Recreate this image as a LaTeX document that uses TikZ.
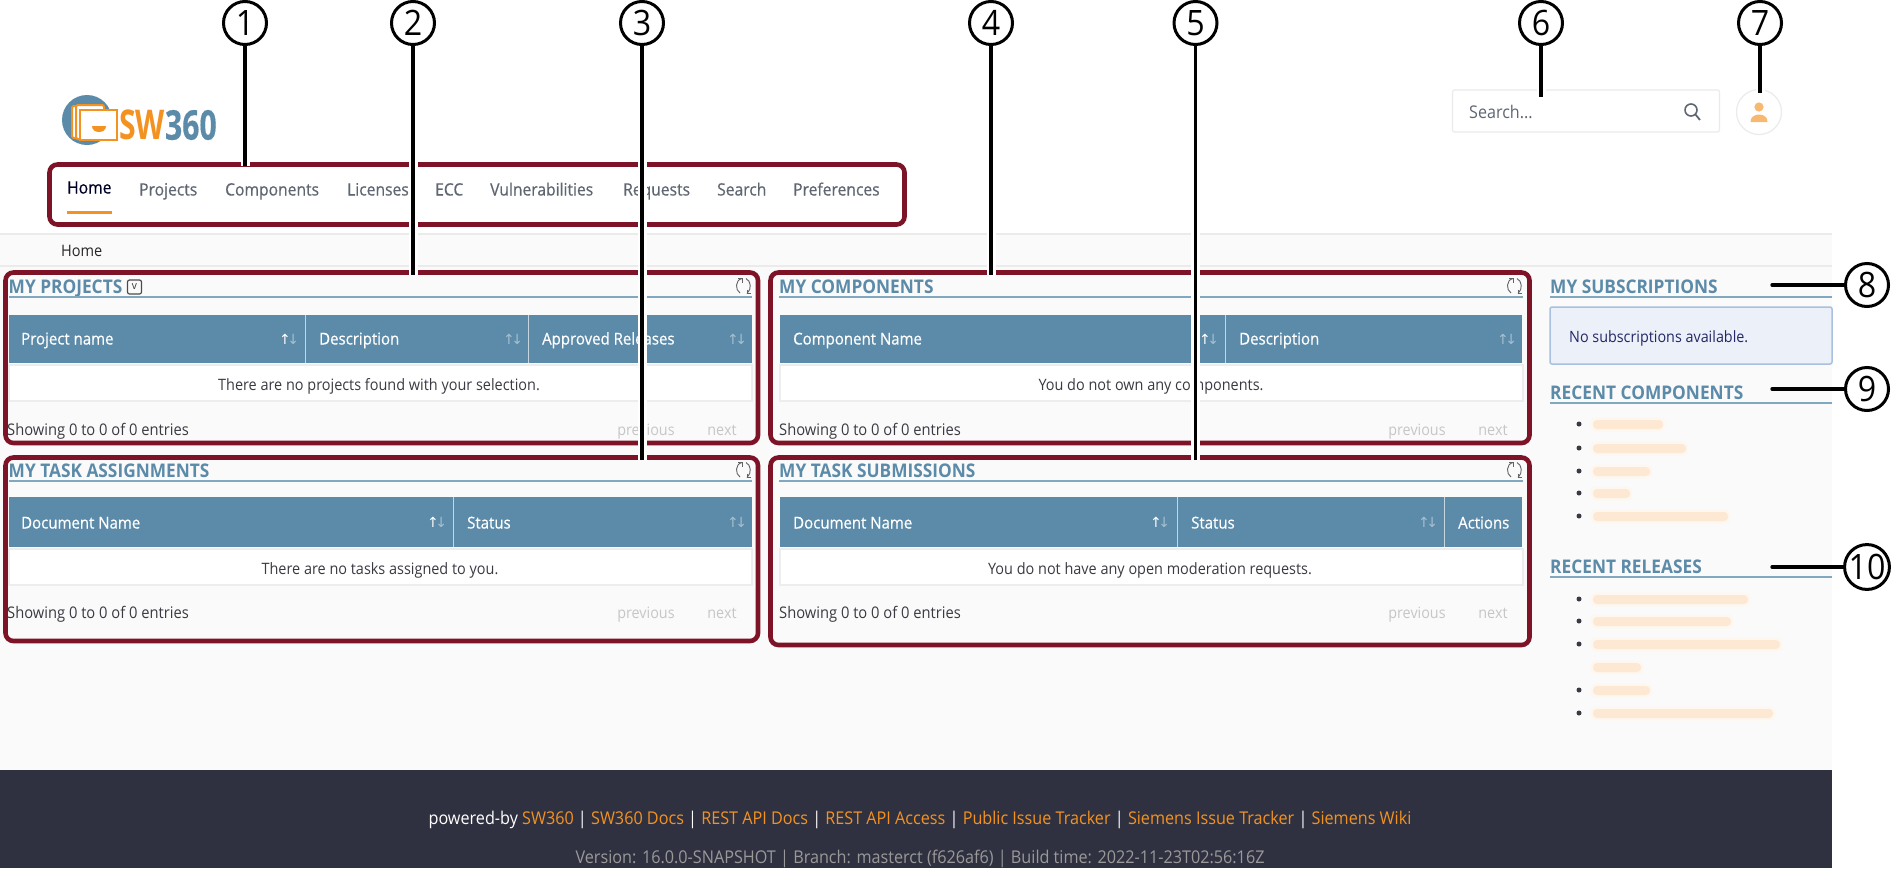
\documentclass[tikz,border=0pt]{standalone}
\usepackage{fontspec}
\setmainfont[FakeStretch=0.92]{Open Sans}
\newfontfamily\semifont[FakeStretch=0.92,FakeBold=0.45]{Open Sans}
\newfontfamily\symfont{DejaVu Sans}
\usetikzlibrary{positioning}
\usetikzlibrary{calc}
\definecolor{frameRed}{HTML}{7D1327}
\definecolor{swBlue}{HTML}{5C8BA9}
\definecolor{ruleBlue}{HTML}{82A8C0}
\definecolor{swOrange}{HTML}{F39221}
\definecolor{pageGray}{HTML}{FAFAFA}
\definecolor{footDark}{HTML}{2F3140}
\definecolor{navGray}{HTML}{5F6672}
\definecolor{bodyDark}{HTML}{3A3A42}
\definecolor{pagerGray}{HTML}{C6C6C6}
\definecolor{infoFill}{HTML}{ECF0F8}
\definecolor{infoLine}{HTML}{A9C1DE}
\definecolor{dimArrow}{HTML}{A5BFD0}
\tikzset{myFrame/.style={draw=frameRed, line width=4.6pt, rounded corners=8pt, inner sep=0pt, outer sep=0pt}}
\tikzset{myLeader/.style={line width=3.4pt, preaction={draw=white, line width=9pt}}}
\tikzset{myCallout/.style={circle, draw=black, line width=3pt, fill=white, minimum size=43pt, inner sep=0pt, font=\fontsize{35}{37}\selectfont}}
\tikzset{myTitle/.style={anchor=west, inner sep=0pt, text height=15pt, text depth=0pt, text=swBlue, font=\fontsize{18.8}{20}\selectfont\bfseries}}
\tikzset{myNav/.style={anchor=west, inner sep=0pt, text height=15pt, text depth=4pt, text=navGray, font=\fontsize{17}{18}\selectfont\semifont}}
\tikzset{myHead/.style={anchor=west, inner sep=0pt, text height=15pt, text depth=4pt, text=white, font=\fontsize{16.3}{18}\selectfont\semifont}}
\tikzset{myBody/.style={inner sep=0pt, text height=15pt, text depth=4pt, text=bodyDark, font=\fontsize{15.7}{18}\selectfont}}
\tikzset{myShow/.style={anchor=west, inner sep=0pt, text height=15pt, text depth=4pt, text=bodyDark, font=\fontsize{16}{18}\selectfont}}
\tikzset{myPager/.style={inner sep=0pt, text height=15pt, text depth=4pt, text=pagerGray, font=\fontsize{15.6}{18}\selectfont}}
\tikzset{mySort/.style={inner sep=0pt, font=\fontsize{14}{16}\selectfont\symfont}}
\tikzset{myDot/.style={circle, fill=bodyDark, minimum size=5pt, inner sep=0pt}}
\tikzset{myRule/.style={draw=ruleBlue, line width=1.5pt}}
\tikzset{myBlur/.style={fill=swOrange!20, rounded corners=4pt, preaction={draw=swOrange!7, line width=5pt, rounded corners=4pt}}}
\tikzset{myRow/.style={fill=white, draw=black!7, line width=1.2pt}}
\tikzset{refreshIcon/.pic={
\draw[line width=0.9pt, bodyDark!80] (-2,-7.5) .. controls (-9,-6) and (-9,4) .. (-4,7);
\draw[line width=0.9pt, bodyDark!80] (2,-7.5) .. controls (7,-5) and (8,3) .. (3,7.5);
\draw[line width=0.9pt, bodyDark!80] (3,3.5) -- (3,7.5) -- (7,7.5);
\draw[line width=0.9pt, bodyDark!80] (-2,-3.5) -- (-2,-7.5) -- (-6,-7.5);
}}
\newcommand{\sortOn}{{\color{white}↑\kern-3.5pt}{\color{dimArrow}↓}}
\newcommand{\sortOff}{{\color{dimArrow}↑\kern-3.5pt↓}}
\begin{document}
\begin{tikzpicture}[x=1pt, y=-1pt]
\useasboundingbox (0,0) rectangle (1891,868);

\fill[white] (0,0) rectangle (1891,868);
\fill[pageGray] (0,234) rectangle (1832,770);
\fill[footDark] (0,770) rectangle (1832,868);
\draw[black!8, line width=1.2pt] (0,234) -- (1832,234);
\draw[black!8, line width=1.2pt] (0,266) -- (1832,266);

\fill[swBlue] (87,120) circle (25);
\draw[swOrange, line width=2pt, fill=white, rounded corners=2pt] (72,106) rectangle (100,138);
\draw[swOrange, line width=2pt, fill=white, rounded corners=2pt] (76,105) rectangle (104,139);
\draw[swOrange, line width=2pt, fill=white] (80,110) rectangle (117,140);
\fill[swOrange] (92,126) -- (106,126) .. controls (106,134) and (92,134) .. cycle;
\node[anchor=west, inner sep=0pt] (logo) at (119,125) {\scalebox{0.8}[1]{\fontsize{41}{44}\selectfont\bfseries\textcolor{swOrange}{SW}\semifont\textcolor{swBlue}{360}}};

\node[myNav, text=black!85!blue] (navHome) at (67,188) {Home};
\node[myNav] (navProjects) at (139,190) {Projects};
\node[myNav] (navComponents) at (225,190) {Components};
\node[myNav] (navLicenses) at (347,190) {Licenses};
\node[myNav] (navEcc) at (435,190) {ECC};
\node[myNav] (navVuln) at (490,190) {Vulnerabilities};
\node[myNav] (navRequests) at (623,190) {Requests};
\node[myNav] (navSearch) at (717,190) {Search};
\node[myNav] (navPrefs) at (793,190) {Preferences};
\draw[swOrange, line width=3pt] (67,212) -- (112,212);

\node[draw=black!8, fill=white, line width=1.2pt, rounded corners=2pt, minimum width=267pt, minimum height=42pt, inner sep=0pt] (searchBox) at (1586,111) {};
\node[anchor=west, inner sep=0pt, text=navGray, text height=15pt, text depth=4pt, font=\fontsize{17.5}{18}\selectfont] (searchText) at (1469,113) {Search...};
\draw[line width=1.6pt, navGray] (1691,110) circle (6);
\draw[line width=1.8pt, navGray] (1695.5,114.5) -- (1700,120);
\node[circle, draw=black!8, fill=white, line width=1.2pt, minimum size=45pt, inner sep=0pt] (avatar) at (1759,112) {};
\fill[swOrange!65] (1759,107) circle (4.6);
\fill[swOrange!65] (1750.5,122) -- (1767.5,122) .. controls (1768,112) and (1750,112) .. cycle;

\node[anchor=west, inner sep=0pt, text=black!85, text height=15pt, text depth=4pt, font=\fontsize{15.8}{18}\selectfont] (crumb) at (61,251) {Home};

\node[myTitle] (tProjects) at (8.5,286) {MY PROJECTS};
\node[draw=black!70, rounded corners=2pt, line width=1.2pt, minimum width=14pt, minimum height=14pt, inner sep=0pt, text=black!80, font=\fontsize{11}{12}\selectfont] (toggle) at (134.5,287) {v};
\draw[myRule] (9,297) -- (752,297);
\pic at (744,286) {refreshIcon};
\fill[swBlue] (9,315) rectangle (752,363);
\draw[white!65!swBlue, line width=1pt] (305,315) -- (305,363);
\draw[white!65!swBlue, line width=1pt] (528,315) -- (528,363);
\node[myHead] (hProject) at (21,339) {Project name};
\node[myHead] (hDescr) at (319,339) {Description};
\node[myHead] (hApproved) at (542,339) {Approved Releases};
\node[mySort] (sA) at (289,339) {\sortOn};
\node[mySort] (sB) at (513,339) {\sortOff};
\node[mySort] (sC) at (737,339) {\sortOff};
\draw[myRow] (9,365) rectangle (752,401);
\node[myBody] (bProjects) at (379,385) {There are no projects found with your selection.};
\node[myShow] (showA) at (7,430) {Showing 0 to 0 of 0 entries};
\node[myPager] (prevA) at (646,430) {previous};
\node[myPager] (nextA) at (722,430) {next};

\node[myTitle] (tComponents) at (779,286) {MY COMPONENTS};
\draw[myRule] (779,297) -- (1523,297);
\pic at (1515,286) {refreshIcon};
\fill[swBlue] (780,315) rectangle (1522,363);
\draw[white!65!swBlue, line width=1pt] (1195,315) -- (1195,363);
\draw[white!65!swBlue, line width=1pt] (1225,315) -- (1225,363);
\node[myHead] (hComponent) at (793,339) {Component Name};
\node[myHead] (hDescrB) at (1239,339) {Description};
\node[mySort] (sD) at (1209,339) {\sortOn};
\node[mySort] (sE) at (1507,339) {\sortOff};
\draw[myRow] (780,365) rectangle (1523,401);
\node[myBody] (bComponents) at (1151,385) {You do not own any components.};
\node[myShow] (showB) at (779,430) {Showing 0 to 0 of 0 entries};
\node[myPager] (prevB) at (1417,430) {previous};
\node[myPager] (nextB) at (1493,430) {next};

\node[myTitle] (tAssign) at (8.5,470) {MY TASK ASSIGNMENTS};
\draw[myRule] (9,481) -- (752,481);
\pic at (744,470) {refreshIcon};
\fill[swBlue] (9,497) rectangle (752,547);
\draw[white!65!swBlue, line width=1pt] (453,497) -- (453,547);
\node[myHead] (hDocA) at (21,523) {Document Name};
\node[myHead] (hStatusA) at (467,523) {Status};
\node[mySort] (sF) at (437,522) {\sortOn};
\node[mySort] (sG) at (737,522) {\sortOff};
\draw[myRow] (9,549) rectangle (752,585);
\node[myBody] (bAssign) at (380,569) {There are no tasks assigned to you.};
\node[myShow] (showC) at (7,613) {Showing 0 to 0 of 0 entries};
\node[myPager] (prevC) at (646,613) {previous};
\node[myPager] (nextC) at (722,613) {next};

\node[myTitle] (tSubmit) at (779,470) {MY TASK SUBMISSIONS};
\draw[myRule] (779,481) -- (1523,481);
\pic at (1515,470) {refreshIcon};
\fill[swBlue] (780,497) rectangle (1522,547);
\draw[white!65!swBlue, line width=1pt] (1177.5,497) -- (1177.5,547);
\draw[white!65!swBlue, line width=1pt] (1444,497) -- (1444,547);
\node[myHead] (hDocB) at (793,523) {Document Name};
\node[myHead] (hStatusB) at (1191,523) {Status};
\node[myHead] (hActions) at (1458,523) {Actions};
\node[mySort] (sH) at (1160,522) {\sortOn};
\node[mySort] (sI) at (1428,522) {\sortOff};
\draw[myRow] (780,549) rectangle (1523,585);
\node[myBody] (bSubmit) at (1150,569) {You do not have any open moderation requests.};
\node[myShow] (showD) at (779,613) {Showing 0 to 0 of 0 entries};
\node[myPager] (prevD) at (1417,613) {previous};
\node[myPager] (nextD) at (1493,613) {next};

\node[myTitle] (tSubs) at (1550,286) {MY SUBSCRIPTIONS};
\draw[myRule] (1550,297) -- (1832,297);
\draw[fill=infoFill, draw=infoLine, line width=1.5pt, rounded corners=2pt] (1550,307) rectangle (1832,364);
\node[myShow, text=footDark!80!blue, font=\fontsize{15.6}{18}\selectfont] (noSubs) at (1569,337) {No subscriptions available.};

\node[myTitle] (tRecentC) at (1550,392) {RECENT COMPONENTS};
\draw[myRule] (1550,403) -- (1832,403);
\node[myDot] (d1) at (1579,424) {};
\node[myDot] (d2) at (1579,448) {};
\node[myDot] (d3) at (1579,471) {};
\node[myDot] (d4) at (1579,493) {};
\node[myDot] (d5) at (1579,516) {};
\fill[myBlur] (1593,420) rectangle (1663,429);
\fill[myBlur] (1593,444) rectangle (1686,453);
\fill[myBlur] (1593,467) rectangle (1650,476);
\fill[myBlur] (1593,489) rectangle (1630,498);
\fill[myBlur] (1593,512) rectangle (1728,521);

\node[myTitle] (tRecentR) at (1550,566) {RECENT RELEASES};
\draw[myRule] (1550,577) -- (1832,577);
\node[myDot] (d6) at (1579,599) {};
\node[myDot] (d7) at (1579,621) {};
\node[myDot] (d8) at (1579,644) {};
\node[myDot] (d9) at (1579,690) {};
\node[myDot] (d10) at (1579,713) {};
\fill[myBlur] (1593,595) rectangle (1748,604);
\fill[myBlur] (1593,617) rectangle (1731,626);
\fill[myBlur] (1593,640) rectangle (1780,649);
\fill[myBlur] (1593,663) rectangle (1641,672);
\fill[myBlur] (1593,686) rectangle (1650,695);
\fill[myBlur] (1593,709) rectangle (1773,718);

\node[inner sep=0pt, text=white, font=\fontsize{17.6}{18}\selectfont] (footLinks) at (920,820) {powered-by \textcolor{swOrange}{SW360} | \textcolor{swOrange}{SW360 Docs} | \textcolor{swOrange}{REST API Docs} | \textcolor{swOrange}{REST API Access} | \textcolor{swOrange}{Public Issue Tracker} | \textcolor{swOrange}{Siemens Issue Tracker} | \textcolor{swOrange}{Siemens Wiki}};
\node[inner sep=0pt, text=black!40, font=\fontsize{17.6}{18}\selectfont] (footBuild) at (920,859) {Version: 16.0.0-SNAPSHOT | Branch: masterct (f626af6) | Build time: 2022-11-23T02:56:16Z};

\node[myFrame, minimum width=855pt, minimum height=60pt] (fNav) at (477,194.5) {};
\node[myFrame, minimum width=752.5pt, minimum height=170.5pt] (fProjects) at (381.75,357.75) {};
\node[myFrame, minimum width=759pt, minimum height=170.5pt] (fComponents) at (1150,357.75) {};
\node[myFrame, minimum width=752.5pt, minimum height=183.5pt] (fAssign) at (381.75,549.25) {};
\node[myFrame, minimum width=759pt, minimum height=187.5pt] (fSubmit) at (1150,551.25) {};

\node[myCallout] (c1) at (245,23) {1};
\node[myCallout] (c2) at (413,23) {2};
\node[myCallout] (c3) at (642,23) {3};
\node[myCallout] (c4) at (991,23) {4};
\node[myCallout] (c5) at (1195.5,23) {5};
\node[myCallout] (c6) at (1541,23) {6};
\node[myCallout] (c7) at (1760,23) {7};
\node[myCallout] (c8) at (1867,285) {8};
\node[myCallout] (c9) at (1867,389) {9};
\node[myCallout] (c10) at (1867,567) {10};

\coordinate (e1) at (245,166);
\coordinate (e2) at (413,275);
\coordinate (e3) at (642,460);
\coordinate (e4) at (991,275);
\coordinate (e5) at (1195.5,460);
\coordinate (e6) at (1541,97);
\coordinate (e7) at (1760,93);
\coordinate (e8) at (1772,285);
\coordinate (e9) at (1772,389);
\coordinate (e10) at (1772,567);

\draw[myLeader] (c1) -- (e1);
\draw[myLeader] (c2) -- (e2);
\draw[myLeader] (c3) -- (e3);
\draw[myLeader] (c4) -- (e4);
\draw[myLeader] (c5) -- (e5);
\draw[myLeader] (c6) -- (e6);
\draw[myLeader] (c7) -- (e7);
\draw[line width=3.4pt, line cap=round] (c8) -- (e8);
\draw[line width=3.4pt, line cap=round] (c9) -- (e9);
\draw[line width=3.4pt, line cap=round] (c10) -- (e10);

\end{tikzpicture}
\end{document}
